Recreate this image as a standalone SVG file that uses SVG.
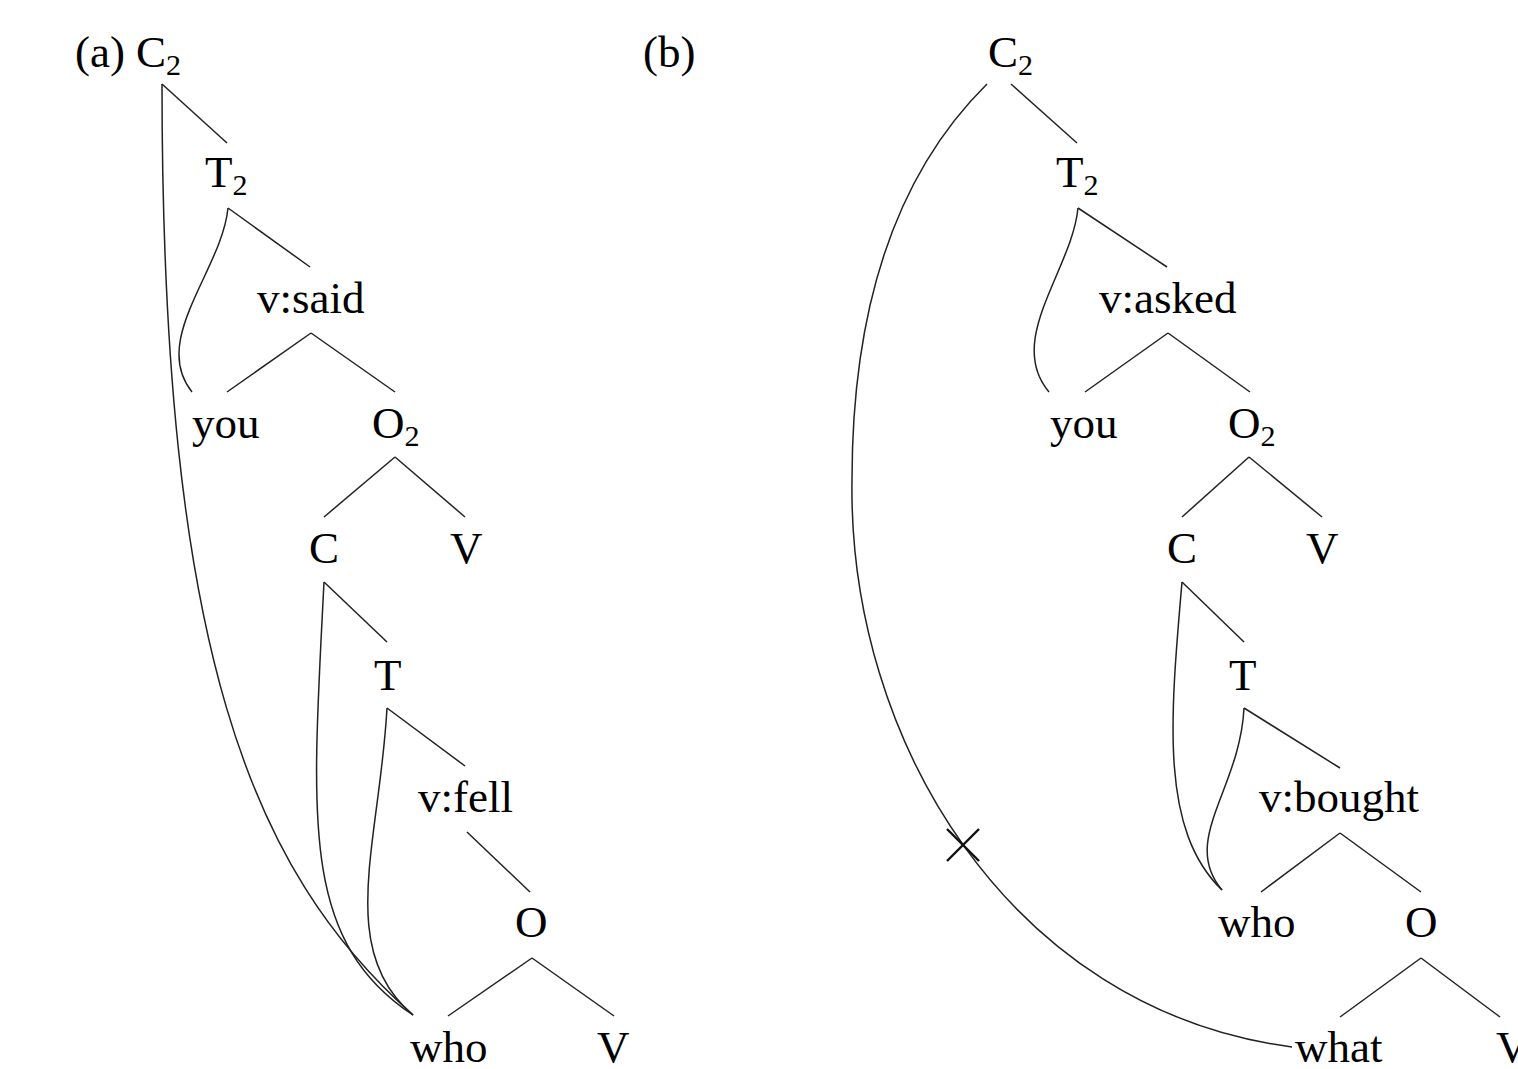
<svg xmlns="http://www.w3.org/2000/svg" width="1518" height="1069" viewBox="0 0 1518 1069">
<style>
text{font-family:"Liberation Serif","Times New Roman",serif;font-size:45px;fill:#000}
.sub{font-size:30px}
.e{fill:none;stroke:#222;stroke-width:1.5}
.x{fill:none;stroke:#111;stroke-width:2.4}
</style>
<rect width="1518" height="1069" fill="#fff"/>
<g id="connectors">
<!-- (a) -->
<line class="e" x1="162" y1="84" x2="227" y2="143"/>
<path class="e" d="M162,84 C162,650 250,870 413,1015"/>
<line class="e" x1="228" y1="208" x2="310" y2="267"/>
<path class="e" d="M228,208 C222,270 150,340 192,392"/>
<line class="e" x1="311" y1="333" x2="227" y2="392"/>
<line class="e" x1="311" y1="333" x2="395" y2="392"/>
<line class="e" x1="395" y1="457" x2="324" y2="517"/>
<line class="e" x1="395" y1="457" x2="465" y2="517"/>
<line class="e" x1="324" y1="582" x2="387" y2="642"/>
<path class="e" d="M324,582 C312,820 300,940 413,1015"/>
<line class="e" x1="387" y1="708" x2="465" y2="766"/>
<path class="e" d="M387,708 C380,840 335,950 413,1015"/>
<line class="e" x1="467" y1="832" x2="530" y2="892"/>
<line class="e" x1="532" y1="958" x2="448" y2="1016"/>
<line class="e" x1="532" y1="958" x2="614" y2="1016"/>
<!-- (b) -->
<line class="e" x1="1011" y1="84" x2="1077" y2="143"/>
<path class="e" d="M987,84 C900,170 852,300 852,480 C848,740 1010,1010 1292,1047"/>
<line class="x" x1="947" y1="829" x2="979" y2="861"/>
<line class="x" x1="979" y1="829" x2="947" y2="861"/>
<line class="e" x1="1078" y1="208" x2="1167" y2="267"/>
<path class="e" d="M1078,208 C1072,270 1005,340 1049,392"/>
<line class="e" x1="1168" y1="333" x2="1085" y2="392"/>
<line class="e" x1="1168" y1="333" x2="1250" y2="392"/>
<line class="e" x1="1249" y1="457" x2="1182" y2="517"/>
<line class="e" x1="1249" y1="457" x2="1322" y2="517"/>
<line class="e" x1="1182" y1="582" x2="1244" y2="642"/>
<path class="e" d="M1182,582 C1170,720 1160,830 1222,890"/>
<line class="e" x1="1244" y1="708" x2="1340" y2="768"/>
<path class="e" d="M1244,708 C1240,790 1180,840 1222,890"/>
<line class="e" x1="1340" y1="833" x2="1261" y2="892"/>
<line class="e" x1="1340" y1="833" x2="1421" y2="892"/>
<line class="e" x1="1421" y1="958" x2="1340" y2="1017"/>
<line class="e" x1="1421" y1="958" x2="1500" y2="1017"/>
</g>
<g id="label-a"><text x="75" y="67">(a)</text></g>
<g id="a-C2"><text x="136" y="67">C<tspan class="sub" dy="8">2</tspan></text></g>
<g id="a-T2"><text x="205" y="187">T<tspan class="sub" dy="8">2</tspan></text></g>
<g id="a-vsaid"><text x="257" y="313">v:said</text></g>
<g id="a-you"><text x="192" y="438">you</text></g>
<g id="a-O2"><text x="372" y="438">O<tspan class="sub" dy="8">2</tspan></text></g>
<g id="a-C"><text x="309" y="563">C</text></g>
<g id="a-V1"><text x="450" y="563">V</text></g>
<g id="a-T"><text x="374" y="690">T</text></g>
<g id="a-vfell"><text x="418" y="812">v:fell</text></g>
<g id="a-O"><text x="515" y="937">O</text></g>
<g id="a-who"><text x="410" y="1062">who</text></g>
<g id="a-V2"><text x="597" y="1062">V</text></g>
<g id="label-b"><text x="643" y="67">(b)</text></g>
<g id="b-C2"><text x="988" y="67">C<tspan class="sub" dy="8">2</tspan></text></g>
<g id="b-T2"><text x="1056" y="187">T<tspan class="sub" dy="8">2</tspan></text></g>
<g id="b-vasked"><text x="1099" y="313">v:asked</text></g>
<g id="b-you"><text x="1050" y="438">you</text></g>
<g id="b-O2"><text x="1228" y="438">O<tspan class="sub" dy="8">2</tspan></text></g>
<g id="b-C"><text x="1167" y="563">C</text></g>
<g id="b-V1"><text x="1306" y="563">V</text></g>
<g id="b-T"><text x="1229" y="690">T</text></g>
<g id="b-vbought"><text x="1259" y="812">v:bought</text></g>
<g id="b-who"><text x="1218" y="937">who</text></g>
<g id="b-O"><text x="1405" y="937">O</text></g>
<g id="b-what"><text x="1295" y="1062">what</text></g>
<g id="b-V2"><text x="1496" y="1062">V</text></g>
</svg>
